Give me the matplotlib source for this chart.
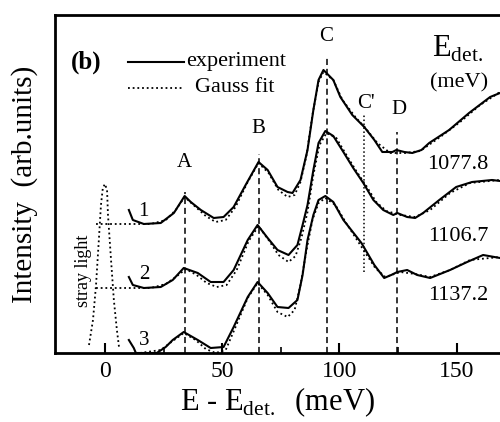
import matplotlib
matplotlib.use('Agg')
import matplotlib.pyplot as plt
from matplotlib.ticker import MultipleLocator

plt.rcParams['font.family'] = ['Liberation Serif', 'DejaVu Serif']
plt.rcParams['mathtext.fontset'] = 'custom'
plt.rcParams['mathtext.rm'] = 'Liberation Serif'

# energies in meV, intensities in arb. units (offset spectra)
exp1_e = [10.2, 11.9, 16.6, 23.8, 29.4, 34.0, 36.6, 40.9, 46.4, 50.6, 54.9, 60.0, 65.5, 69.4,
          73.6, 77.9, 80.0, 83.4, 86.4, 88.9, 91.1, 93.2, 97.4, 100.4, 105.5, 110.6, 114.9,
          118.3, 122.6, 124.3, 127.7, 131.1, 135.0, 138.3, 146.8, 155.3, 164.3, 168.5]
exp1_i = [1.43, 1.33, 1.29, 1.30, 1.40, 1.57, 1.51, 1.43, 1.35, 1.36, 1.46, 1.68, 1.91, 1.83,
          1.66, 1.61, 1.60, 1.73, 2.03, 2.43, 2.73, 2.83, 2.73, 2.56, 2.38, 2.26, 2.13,
          2.01, 2.01, 2.03, 2.01, 2.00, 2.03, 2.10, 2.23, 2.40, 2.56, 2.60]

fit1_e = [-3.8, 15.3, 19.6, 26.0, 30.2, 34.0, 38.7, 43.0, 47.2, 51.5, 55.7, 60.9, 65.5, 69.8,
          74.0, 77.9, 80.9, 83.4, 86.0, 88.5, 91.1, 93.2, 97.4, 101.3, 106.8, 111.1, 116.2,
          121.7, 128.1, 134.5, 143.0, 151.5, 160.0, 168.5]
fit1_i = [1.29, 1.29, 1.29, 1.33, 1.43, 1.56, 1.46, 1.37, 1.31, 1.33, 1.46, 1.71, 1.90, 1.80,
          1.63, 1.56, 1.58, 1.71, 1.98, 2.38, 2.71, 2.81, 2.73, 2.53, 2.36, 2.25, 2.10,
          2.00, 2.00, 2.02, 2.16, 2.31, 2.48, 2.61]

exp2_e = [10.2, 11.9, 16.6, 23.8, 28.9, 33.6, 39.6, 45.1, 50.6, 54.9, 60.9, 65.1, 69.4, 73.6,
          78.3, 82.1, 84.3, 86.4, 88.9, 91.1, 94.0, 97.4, 101.7, 105.9, 110.2, 114.5, 118.7,
          123.0, 124.7, 128.9, 132.3, 135.7, 142.6, 149.8, 156.6, 165.1, 168.5]
exp2_i = [0.76, 0.68, 0.65, 0.66, 0.73, 0.85, 0.80, 0.71, 0.71, 0.83, 1.13, 1.28, 1.15, 1.03,
          0.98, 1.08, 1.28, 1.48, 1.83, 2.10, 2.22, 2.17, 2.01, 1.85, 1.70, 1.53, 1.43,
          1.38, 1.40, 1.36, 1.35, 1.40, 1.53, 1.66, 1.71, 1.73, 1.72]

fit2_e = [-3.8, 15.3, 19.6, 26.0, 30.2, 34.5, 39.1, 43.4, 47.7, 51.9, 56.2, 61.3, 65.5, 69.8,
          74.0, 78.3, 81.3, 83.8, 86.4, 88.9, 91.5, 94.5, 98.7, 103.0, 107.2, 111.5, 115.7,
          120.0, 126.0, 132.3, 138.7, 147.2, 155.7, 168.5]
fit2_i = [0.65, 0.65, 0.65, 0.69, 0.76, 0.84, 0.78, 0.70, 0.66, 0.68, 0.83, 1.12, 1.27, 1.13,
          0.98, 0.91, 0.97, 1.15, 1.41, 1.78, 2.08, 2.20, 2.15, 1.98, 1.82, 1.67, 1.51,
          1.42, 1.38, 1.36, 1.43, 1.60, 1.70, 1.73]

exp3_e = [10.2, 12.3, 13.2, 22.1, 25.9, 28.9, 33.6, 39.6, 45.1, 50.6, 54.9, 60.9, 65.1, 69.4,
          73.6, 78.3, 82.1, 84.3, 86.4, 88.9, 91.1, 94.0, 97.4, 101.7, 109.4, 114.9, 119.1,
          122.1, 124.7, 128.9, 133.2, 138.7, 147.2, 154.5, 161.3, 168.5]
exp3_i = [0.13, 0.05, 0.00, 0.00, 0.06, 0.13, 0.21, 0.13, 0.05, 0.06, 0.26, 0.56, 0.71, 0.60,
          0.46, 0.45, 0.53, 0.78, 1.13, 1.38, 1.53, 1.57, 1.51, 1.33, 1.10, 0.88, 0.75,
          0.78, 0.81, 0.83, 0.78, 0.75, 0.83, 0.91, 0.98, 0.95]

fit3_e = [14.9, 23.8, 28.9, 33.6, 38.7, 43.0, 47.2, 51.5, 55.7, 60.9, 65.1, 69.4, 73.6, 77.9,
          80.9, 83.4, 86.0, 88.5, 91.1, 94.0, 98.3, 102.6, 108.9, 115.3, 119.6, 126.0, 132.3,
          138.7, 147.2, 155.7, 168.5]
fit3_i = [0.00, 0.03, 0.12, 0.20, 0.13, 0.04, 0.00, 0.03, 0.26, 0.55, 0.70, 0.58, 0.41, 0.36,
          0.43, 0.68, 1.03, 1.33, 1.50, 1.55, 1.48, 1.31, 1.08, 0.85, 0.76, 0.81, 0.79,
          0.76, 0.83, 0.93, 0.96]

stray_e = [-6.8, -5.1, -3.8, -2.6, -1.7, -0.9, 0.0, 0.9, 1.3, 2.6, 3.8, 5.1, 6.0]
stray_i = [0.08, 0.33, 0.68, 1.13, 1.48, 1.65, 1.69, 1.63, 1.38, 0.93, 0.53, 0.23, 0.06]

# peak positions and vertical guide lines
peak_labels = ['A', 'B', 'C', "C'", 'D']
peak_e = [34.0, 65.5, 94.5, 110.6, 124.7]
line_top = [1.61, 1.99, 2.95, 2.38, 2.21]
line_bottom = [0.0, 0.0, 0.0, 0.81, 0.0]
label_e = [34.0, 65.5, 94.5, 111.5, 125.5]
label_i = [1.90, 2.24, 3.16, 2.49, 2.43]

spectrum_ids = ['1', '2', '3']
id_i = [1.41, 0.78, 0.13]
det_energies = ['1077.8', '1106.7', '1137.2']
det_label_i = [1.88, 1.16, 0.57]

fig = plt.figure(figsize=(5.0, 4.22), dpi=100)
ax = fig.add_axes([0.11, 0.1635, 0.89, 0.801])

for e, i in [(exp1_e, exp1_i), (exp2_e, exp2_i), (exp3_e, exp3_i)]:
    ax.plot(e, i, '-', color='black', lw=1.5, zorder=3)
for e, i in [(fit1_e, fit1_i), (fit2_e, fit2_i), (fit3_e, fit3_i)]:
    ax.plot(e, i, color='black', lw=1.3, linestyle=(0, (1, 1.6)), zorder=2)
ax.plot(stray_e, stray_i, color='black', lw=1.3, linestyle=(0, (1, 1.6)))

for k, lab in enumerate(peak_labels):
    ls = (0, (1, 1.6)) if lab == "C'" else (0, (4, 2.5))
    ax.plot([peak_e[k], peak_e[k]], [line_bottom[k], line_top[k]], color='black',
            lw=1.1, linestyle=ls)
    ax.text(label_e[k], label_i[k], lab, ha='center', va='center', fontsize=15)

for k, s in enumerate(spectrum_ids):
    ax.text(16.6, id_i[k], s, ha='center', va='center', fontsize=15)
    ax.text(150.5, det_label_i[k], det_energies[k], ha='center', va='center', fontsize=16)

ax.text(-8.1, 2.91, '(b)', ha='center', va='center', fontsize=18, fontweight='bold')
ax.plot([9.8, 33.6], [2.91, 2.91], '-', color='black', lw=1.5)
ax.text(34.5, 2.91, 'experiment', ha='left', va='center', fontsize=16)
ax.plot([9.8, 33.6], [2.65, 2.65], color='black', lw=1.3, linestyle=(0, (1, 1.6)))
ax.text(38.3, 2.65, 'Gauss fit', ha='left', va='center', fontsize=16)

ax.text(-9.0, 0.82, 'stray light', rotation=90, ha='center', va='center', fontsize=13)
ax.text(150.5, 3.04, r'E$_{\rm det.}$', ha='center', va='center', fontsize=22)
ax.text(151.0, 2.70, '(meV)', ha='center', va='center', fontsize=16)

ax.set_xlim(-21.3, 168.5)
ax.set_ylim(0, 3.38)
ax.xaxis.set_major_locator(MultipleLocator(50))
ax.xaxis.set_minor_locator(MultipleLocator(25))
ax.set_yticks([])
ax.tick_params(axis='x', which='major', direction='in', length=7, width=1.5,
               labelsize=17, pad=6)
ax.tick_params(axis='x', which='minor', direction='in', length=4, width=1.2)
ax.spines['right'].set_visible(False)
for s in ['left', 'top', 'bottom']:
    ax.spines[s].set_linewidth(2)

ax.set_xlabel(r'E - E$_{\rm det.}$  (meV)', fontsize=22, labelpad=2)
ax.set_ylabel('Intensity  (arb.units)', fontsize=21, labelpad=12)

fig.savefig('out.png', dpi=100)
